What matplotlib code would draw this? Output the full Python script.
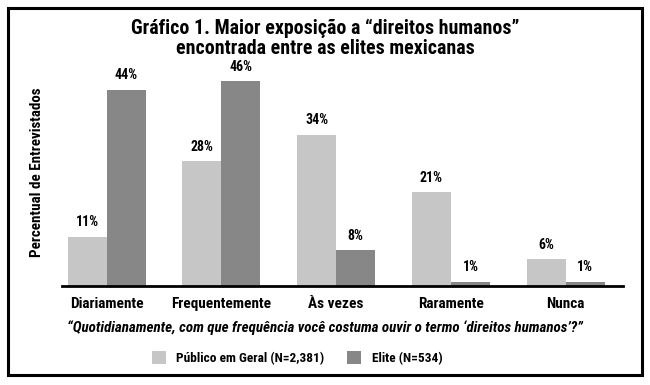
import matplotlib
matplotlib.use("Agg")
import numpy as np
import matplotlib.pyplot as plt
from matplotlib.patches import Rectangle

plt.rcParams['font.family'] = ['Roboto Condensed', 'DejaVu Sans']
plt.rcParams['font.weight'] = 'bold'

categorias = ["Diariamente", "Frequentemente", "Às vezes", "Raramente", "Nunca"]
publico = [11, 28, 34, 21, 6]
elite = [44, 46, 8, 1, 1]
series = ["Público em Geral (N=2,381)", "Elite (N=534)"]

cor_publico = "#c6c6c6"
cor_elite = "#878787"

fig = plt.figure(figsize=(6.5, 3.85), dpi=100)
# moldura externa
fig.patches.append(Rectangle((0.012, 0.025), 0.976, 0.955, transform=fig.transFigure,
                             fill=False, edgecolor='black', linewidth=2.2))

ax = fig.add_axes([62 / 650, 1 - 286 / 385, (623 - 62) / 650, (286 - 70) / 385])
x = np.arange(len(categorias))
w = 0.34
b1 = ax.bar(x - w / 2, publico, w, color=cor_publico, label=series[0])
b2 = ax.bar(x + w / 2, elite, w, color=cor_elite, label=series[1])
for bars, vals in ((b1, publico), (b2, elite)):
    for r, v in zip(bars, vals):
        ax.text(r.get_x() + r.get_width() / 2, v + 1.7, f"{v}%", ha='center', va='bottom',
                fontsize=10, fontweight='bold')

ax.set_xlim(-0.39, 4.5)
ax.set_ylim(0, 48.5)
for s in ['top', 'right', 'left']:
    ax.spines[s].set_visible(False)
ax.spines['bottom'].set_linewidth(2)
ax.set_yticks([])
ax.set_xticks(x)
ax.set_xticklabels(categorias, fontsize=11, fontweight='bold')
ax.tick_params(axis='x', length=0, pad=8)

fig.text(37 / 650, 1 - 172 / 385, "Percentual de Entrevistados", rotation=90,
         ha='center', va='center', fontsize=10.8, fontweight='bold')
fig.text(0.5, 1 - 28 / 385, "Gráfico 1. Maior exposição a “direitos humanos”",
         ha='center', va='center', fontsize=14.3, fontweight='bold')
fig.text(0.5, 1 - 48 / 385, "encontrada entre as elites mexicanas",
         ha='center', va='center', fontsize=14.3, fontweight='bold')
fig.text(0.5, 1 - 328 / 385,
         "“Quotidianamente, com que frequência você costuma ouvir o termo ‘direitos humanos’?”",
         ha='center', va='center', fontsize=10.8, fontweight='bold', style='italic')

fig.legend(loc='center', bbox_to_anchor=(297 / 650, 1 - 358 / 385), ncol=2, frameon=False,
           fontsize=9.6, handlelength=1.05, handleheight=1.05, columnspacing=1.7,
           handletextpad=0.8, borderpad=0, borderaxespad=0)

fig.savefig("out.png", dpi=100)
